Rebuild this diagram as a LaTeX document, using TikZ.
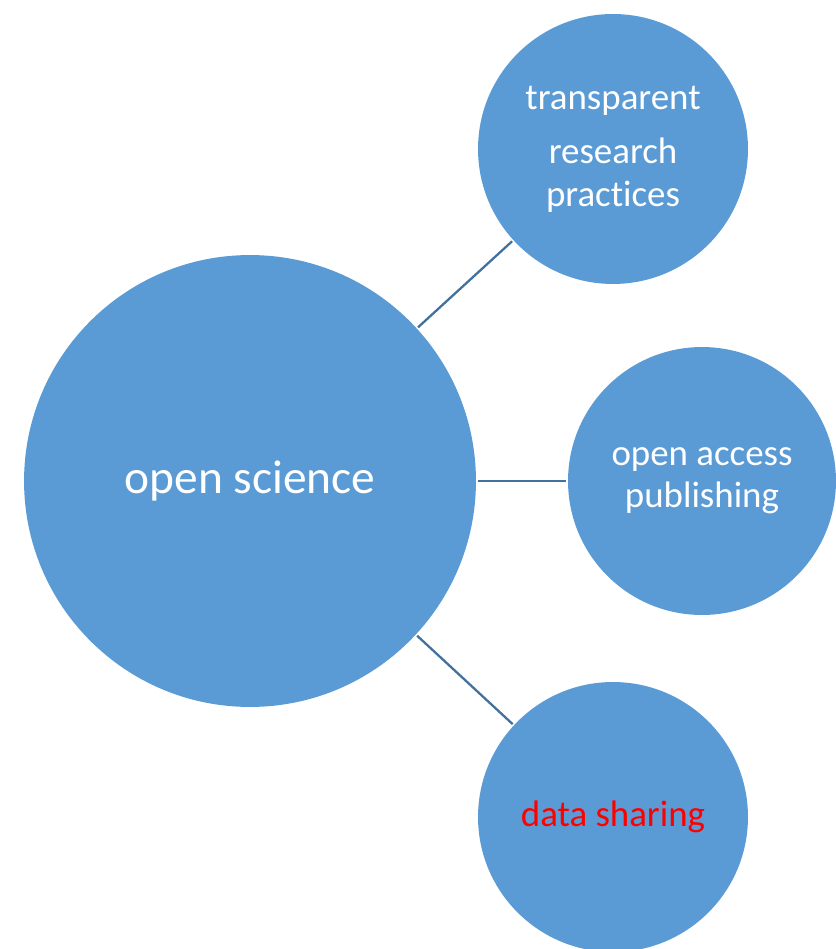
\documentclass[tikz,border=0pt]{standalone}
\usepackage{fontspec}
\setmainfont[Ligatures=NoCommon]{Carlito}
\usepackage{tikz}
\definecolor{bubblefill}{HTML}{5B9BD5}
\definecolor{bubbleline}{HTML}{41719C}
\tikzset{
  bubble/.style={circle,fill=bubblefill,draw=none,inner sep=0pt,outer sep=1pt,
    text=white,align=center,font=\fontsize{21}{24}\selectfont},
  bigbubble/.style={bubble,minimum size=9.04cm,font=\fontsize{27}{30}\selectfont},
  smallbubble/.style={bubble,minimum size=5.4cm}
}
\begin{document}
\begin{tikzpicture}[x=0.02cm,y=-0.02cm]
        \useasboundingbox (0,0) rectangle (835,949);

        \node[bigbubble] (os) at (250,481) {open science};
        \node[smallbubble] (trp) at (613,149) {transparent\\[7pt] research\\ practices};
        \node[smallbubble,minimum size=5.36cm] (oap) at (702,481) {open access\\ publishing};
        \node[smallbubble,text=red] (ds) at (613,817) {data sharing};

        \path[draw=bubbleline,line width=1.3pt]

        (os) edge (trp)

        (os) edge (oap)

        (os) edge (ds)

        ;
\end{tikzpicture}
\end{document}
